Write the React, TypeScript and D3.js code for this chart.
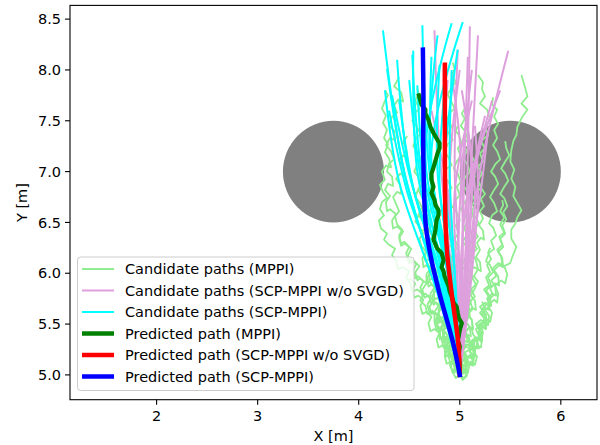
import React from "react";
import * as d3 from "d3";

const W = 600, H = 445;
const X_DOMAIN = [1.143, 6.358];
const Y_DOMAIN = [4.756, 8.635];
const X_TICKS = [2, 3, 4, 5, 6];
const Y_TICKS = [5.0, 5.5, 6.0, 6.5, 7.0, 7.5, 8.0, 8.5];

const obstacleX = [3.75, 5.5];
const obstacleY = [7.0, 7.0];
const obstacleR = [0.5, 0.5];

// Candidate paths (MPPI) — jittery sampled rollouts, "x y" pairs
const mppiCandidates = [
  "5.00 5.00, 4.97 5.05, 5.01 5.09, 4.96 5.14, 4.93 5.12, 4.91 5.19, 4.95 5.24, 4.90 5.29, 4.86 5.27, 4.84 5.34, 4.88 5.39, 4.83 5.45, 4.79 5.43, 4.77 5.50, 4.81 5.56, 4.76 5.61, 4.72 5.60, 4.70 5.67, 4.74 5.73, 4.69 5.78, 4.65 5.76, 4.63 5.84, 4.67 5.90, 4.61 5.95, 4.58 5.93, 4.56 6.01, 4.60 6.07, 4.55 6.12, 4.50 6.10, 4.49 6.18, 4.52 6.24, 4.46 6.29, 4.42 6.27, 4.40 6.35, 4.44 6.41, 4.38 6.46, 4.34 6.44, 4.33 6.52, 4.37 6.58, 4.31 6.63, 4.28 6.61, 4.27 6.70, 4.31 6.76, 4.26 6.82, 4.29 6.88, 4.34 6.86, 4.33 6.95, 4.28 7.00, 4.30 7.08, 4.35 7.12, 4.32 7.20, 4.27 7.26, 4.31 7.33, 4.36 7.31, 4.35 7.40, 4.30 7.46, 4.33 7.54, 4.38 7.58, 4.35 7.65, 4.39 7.71, 4.44 7.69, 4.42 7.78, 4.35 7.84, 4.40 7.93",
  "5.00 5.00, 5.03 5.06, 4.98 5.10, 4.95 5.17, 4.99 5.22, 4.94 5.26, 4.89 5.24, 4.87 5.31, 4.83 5.37, 4.86 5.42, 4.80 5.46, 4.76 5.52, 4.79 5.58, 4.73 5.62, 4.68 5.60, 4.66 5.68, 4.61 5.73, 4.64 5.79, 4.58 5.84, 4.53 5.82, 4.51 5.90, 4.47 5.96, 4.50 6.02, 4.44 6.06, 4.39 6.04, 4.37 6.12, 4.33 6.18, 4.36 6.24, 4.30 6.28, 4.25 6.33, 4.28 6.39, 4.22 6.44, 4.20 6.52, 4.25 6.57, 4.21 6.63, 4.23 6.70, 4.28 6.74, 4.24 6.80, 4.21 6.87, 4.26 6.92, 4.23 7.00, 4.27 7.06, 4.32 7.04, 4.30 7.13, 4.26 7.19, 4.29 7.27, 4.25 7.33, 4.28 7.41, 4.24 7.48, 4.27 7.55, 4.23 7.62, 4.26 7.70, 4.29 7.75, 4.26 7.80",
  "5.00 5.00, 4.97 5.05, 5.02 5.08, 4.99 5.15, 5.04 5.19, 5.00 5.26, 4.95 5.28, 4.98 5.35, 5.03 5.38, 4.99 5.46, 4.94 5.44, 4.96 5.53, 5.01 5.58, 4.96 5.64, 4.92 5.62, 4.94 5.71, 4.99 5.76, 4.95 5.83, 4.90 5.86, 4.93 5.94, 4.97 5.99, 4.92 6.05, 4.95 6.12, 4.90 6.17, 4.86 6.15, 4.88 6.24, 4.93 6.29, 4.89 6.36, 4.92 6.43, 4.87 6.48, 4.84 6.46, 4.86 6.55, 4.91 6.60, 4.88 6.67, 4.84 6.72, 4.87 6.80, 4.92 6.84, 4.88 6.91, 4.84 6.95, 4.87 7.03, 4.92 7.06, 4.89 7.14, 4.85 7.19, 4.88 7.27, 4.93 7.31, 4.89 7.38, 4.92 7.45, 4.87 7.50, 4.90 7.58, 4.95 7.62, 4.91 7.70, 4.88 7.76, 4.92 7.83, 4.96 7.88, 4.92 7.95, 4.95 8.01, 4.93 8.07",
  "5.00 5.00, 5.03 5.04, 4.99 5.09, 5.04 5.14, 5.08 5.12, 5.06 5.20, 5.02 5.25, 5.07 5.30, 5.11 5.28, 5.09 5.37, 5.05 5.42, 5.10 5.47, 5.13 5.45, 5.12 5.54, 5.08 5.60, 5.13 5.65, 5.10 5.72, 5.15 5.77, 5.11 5.84, 5.16 5.89, 5.12 5.96, 5.09 6.01, 5.14 6.06, 5.18 6.04, 5.16 6.13, 5.12 6.19, 5.17 6.24, 5.13 6.31, 5.18 6.36, 5.14 6.43, 5.19 6.49, 5.15 6.56, 5.11 6.60, 5.15 6.67, 5.20 6.71, 5.16 6.79, 5.21 6.84, 5.18 6.92, 5.22 6.98, 5.18 7.05, 5.23 7.10, 5.20 7.18, 5.25 7.23, 5.21 7.30, 5.28 7.36, 5.25 7.44, 5.30 7.51, 5.27 7.61, 5.20 7.67, 5.25 7.74, 5.22 7.81, 5.23 7.88, 5.18 7.95",
  "5.00 5.00, 5.04 5.06, 5.02 5.13, 5.08 5.18, 5.12 5.16, 5.14 5.24, 5.11 5.31, 5.17 5.36, 5.21 5.33, 5.23 5.42, 5.20 5.50, 5.26 5.55, 5.30 5.52, 5.32 5.61, 5.28 5.68, 5.34 5.74, 5.37 5.71, 5.38 5.80, 5.35 5.88, 5.41 5.93, 5.45 5.90, 5.47 5.99, 5.44 6.07, 5.50 6.10, 5.52 6.16, 5.56 6.26, 5.51 6.34, 5.51 6.43, 5.55 6.49, 5.57 6.55, 5.61 6.62, 5.57 6.69, 5.53 6.76, 5.55 6.85, 5.51 6.93, 5.54 7.02, 5.50 7.10, 5.51 7.21, 5.53 7.30, 5.56 7.36, 5.57 7.44, 5.62 7.54, 5.67 7.61, 5.61 7.67, 5.67 7.74, 5.64 7.85, 5.61 7.95",
  "5.00 5.00, 5.04 5.03, 5.07 5.09, 5.04 5.15, 5.10 5.19, 5.14 5.17, 5.15 5.25, 5.12 5.31, 5.18 5.35, 5.22 5.33, 5.21 5.42, 5.17 5.48, 5.23 5.52, 5.27 5.50, 5.26 5.59, 5.22 5.65, 5.27 5.70, 5.31 5.68, 5.30 5.77, 5.26 5.83, 5.31 5.88, 5.28 5.96, 5.33 6.01, 5.30 6.08, 5.26 6.12, 5.29 6.20, 5.34 6.24, 5.31 6.32, 5.36 6.37, 5.33 6.45, 5.29 6.49, 5.32 6.57, 5.37 6.61, 5.34 6.69, 5.30 6.75, 5.34 6.82, 5.38 6.88, 5.35 6.95, 5.31 7.00, 5.35 7.07, 5.40 7.12, 5.37 7.20, 5.33 7.26, 5.37 7.33, 5.34 7.41, 5.38 7.47, 5.34 7.54, 5.37 7.61, 5.32 7.66, 5.33 7.73",
  "5.00 5.00, 4.97 5.06, 5.02 5.10, 5.06 5.08, 5.08 5.16, 5.05 5.22, 5.11 5.26, 5.15 5.24, 5.14 5.33, 5.19 5.38, 5.16 5.45, 5.21 5.49, 5.25 5.47, 5.24 5.56, 5.20 5.61, 5.25 5.66, 5.29 5.64, 5.28 5.73, 5.33 5.78, 5.30 5.85, 5.35 5.90, 5.39 5.88, 5.38 5.97, 5.34 6.03, 5.39 6.08, 5.43 6.06, 5.42 6.15, 5.38 6.21, 5.43 6.26, 5.40 6.34, 5.45 6.39, 5.42 6.47, 5.46 6.53, 5.43 6.60, 5.47 6.66, 5.44 6.74, 5.40 6.78, 5.44 6.85, 5.48 6.91, 5.45 6.98, 5.41 7.03, 5.45 7.10, 5.49 7.16, 5.46 7.23, 5.45 7.30",
  "5.00 5.00, 5.05 5.02, 5.03 5.09, 5.08 5.13, 5.12 5.10, 5.13 5.19, 5.09 5.24, 5.14 5.28, 5.19 5.26, 5.17 5.35, 5.22 5.40, 5.19 5.47, 5.24 5.51, 5.28 5.49, 5.29 5.58, 5.25 5.64, 5.31 5.68, 5.27 5.75, 5.32 5.80, 5.36 5.78, 5.35 5.87, 5.31 5.93, 5.36 5.97, 5.33 6.05, 5.38 6.10, 5.42 6.08, 5.41 6.17, 5.37 6.23, 5.42 6.28, 5.39 6.36, 5.44 6.40, 5.40 6.48, 5.44 6.55, 5.40 6.61, 5.43 6.67, 5.42 6.72",
  "5.00 5.00, 4.96 5.03, 4.94 5.10, 4.98 5.15, 4.93 5.19, 4.89 5.17, 4.88 5.26, 4.92 5.31, 4.87 5.36, 4.84 5.34, 4.83 5.43, 4.87 5.48, 4.82 5.53, 4.79 5.51, 4.78 5.60, 4.82 5.66, 4.77 5.71, 4.74 5.69, 4.73 5.78, 4.77 5.84, 4.72 5.89, 4.69 5.87, 4.68 5.96, 4.72 6.02, 4.67 6.08, 4.64 6.06, 4.63 6.15, 4.67 6.21, 4.62 6.27, 4.60 6.34, 4.64 6.39, 4.60 6.46, 4.56 6.51, 4.60 6.58, 4.64 6.62, 4.60 6.70, 4.56 6.75, 4.59 6.83, 4.63 6.87, 4.59 6.95, 4.55 7.00, 4.58 7.08, 4.62 7.12, 4.58 7.20, 4.54 7.25, 4.57 7.33, 4.61 7.37, 4.57 7.45, 4.53 7.50, 4.56 7.58, 4.60 7.62, 4.56 7.70, 4.59 7.76, 4.58 7.82",
  "5.00 5.00, 5.02 5.05, 4.98 5.11, 5.03 5.16, 5.06 5.14, 5.04 5.23, 5.00 5.28, 5.04 5.34, 5.08 5.32, 5.06 5.41, 5.02 5.46, 5.06 5.52, 5.03 5.59, 5.07 5.64, 5.10 5.62, 5.08 5.71, 5.04 5.76, 5.08 5.83, 5.05 5.90, 5.09 5.95, 5.06 6.02, 5.02 6.07, 5.05 6.14, 5.10 6.18, 5.07 6.26, 5.03 6.31, 5.07 6.38, 5.04 6.45, 5.08 6.50, 5.05 6.58, 5.01 6.63, 5.05 6.70, 5.09 6.75, 5.06 6.83, 5.02 6.88, 5.06 6.95, 5.10 7.00, 5.07 7.08, 5.03 7.13, 5.07 7.20, 5.04 7.27, 5.08 7.32, 5.05 7.40, 5.01 7.45, 5.05 7.52, 5.02 7.57, 5.05 7.62",
  "5.00 5.00, 5.03 5.07, 4.99 5.12, 4.95 5.10, 4.94 5.19, 4.98 5.24, 4.93 5.29, 4.90 5.27, 4.89 5.36, 4.93 5.42, 4.88 5.47, 4.85 5.45, 4.84 5.54, 4.88 5.60, 4.84 5.66, 4.80 5.64, 4.80 5.73, 4.84 5.79, 4.80 5.85, 4.77 5.83, 4.76 5.92, 4.80 5.98, 4.76 6.04, 4.73 6.02, 4.72 6.11, 4.76 6.17, 4.72 6.23, 4.69 6.21, 4.69 6.30, 4.73 6.36, 4.69 6.43, 4.72 6.49, 4.68 6.55, 4.71 6.62, 4.75 6.66, 4.71 6.74, 4.68 6.80, 4.72 6.86, 4.72 6.95",
  "5.00 5.00, 4.98 5.06, 5.03 5.10, 5.07 5.08, 5.06 5.17, 5.02 5.22, 5.06 5.28, 5.10 5.26, 5.09 5.35, 5.05 5.40, 5.09 5.47, 5.13 5.45, 5.12 5.54, 5.08 5.59, 5.12 5.66, 5.16 5.64, 5.15 5.73, 5.11 5.78, 5.15 5.85, 5.18 5.92, 5.14 5.97, 5.18 6.04, 5.21 6.02, 5.20 6.11, 5.16 6.16, 5.20 6.23, 5.17 6.30, 5.21 6.35, 5.24 6.33, 5.23 6.42, 5.19 6.47, 5.23 6.54, 5.20 6.61, 5.24 6.66, 5.21 6.73, 5.25 6.78, 5.21 6.84, 5.22 6.90",
  "5.00 5.00, 4.97 5.04, 4.93 5.02, 4.91 5.10, 4.95 5.15, 4.90 5.20, 4.86 5.18, 4.85 5.27, 4.89 5.32, 4.84 5.37, 4.80 5.35, 4.80 5.44, 4.84 5.49, 4.79 5.55, 4.75 5.53, 4.75 5.62, 4.79 5.68, 4.74 5.73, 4.71 5.71, 4.71 5.80, 4.75 5.86, 4.70 5.92, 4.67 5.90, 4.67 5.99, 4.71 6.05, 4.67 6.11, 4.64 6.17, 4.68 6.22, 4.66 6.30",
  "5.00 5.00, 5.04 5.05, 5.08 5.03, 5.10 5.11, 5.06 5.16, 5.11 5.20, 5.15 5.18, 5.15 5.27, 5.11 5.33, 5.16 5.37, 5.20 5.35, 5.20 5.44, 5.16 5.50, 5.21 5.54, 5.25 5.52, 5.24 5.61, 5.20 5.67, 5.25 5.71, 5.29 5.69, 5.28 5.78, 5.24 5.84, 5.29 5.88, 5.26 5.96, 5.30 6.01, 5.27 6.08, 5.31 6.14, 5.28 6.20, 5.30 6.25",
  "5.00 5.00, 4.96 4.97, 4.93 5.03, 4.96 5.09, 4.91 5.13, 4.87 5.11, 4.85 5.19, 4.88 5.25, 4.83 5.29, 4.79 5.27, 4.77 5.35, 4.80 5.41, 4.75 5.45, 4.71 5.43, 4.69 5.51, 4.72 5.57, 4.67 5.62, 4.63 5.60, 4.61 5.68, 4.64 5.74, 4.59 5.78, 4.55 5.76, 4.53 5.84, 4.56 5.90, 4.50 5.95",
  "5.00 5.00, 5.04 4.97, 5.08 5.02, 5.06 5.09, 5.11 5.13, 5.15 5.10, 5.17 5.18, 5.13 5.24, 5.17 5.29, 5.21 5.27, 5.22 5.36, 5.18 5.42, 5.22 5.47, 5.26 5.45, 5.26 5.54, 5.22 5.60, 5.25 5.66, 5.22 5.72",
  "5.00 5.00, 4.97 5.05, 4.93 5.03, 4.90 5.10, 4.94 5.16, 4.89 5.20, 4.86 5.18, 4.85 5.27, 4.89 5.33, 4.84 5.38, 4.81 5.36, 4.80 5.45, 4.84 5.51, 4.80 5.58",
  "5.00 5.00, 5.03 4.95, 5.07 4.99, 5.05 5.06, 5.09 5.11, 5.13 5.09, 5.14 5.17, 5.10 5.23, 5.14 5.28, 5.17 5.26, 5.17 5.35, 5.13 5.40, 5.12 5.45",
  "5.00 5.00, 4.98 5.07, 5.02 5.12, 4.98 5.19, 4.94 5.17, 4.95 5.26, 5.00 5.31, 4.96 5.38, 4.92 5.36, 4.93 5.45, 4.98 5.50, 4.94 5.57, 4.90 5.55, 4.91 5.64, 4.96 5.69, 4.92 5.76, 4.95 5.83, 4.91 5.89, 4.94 5.96, 4.98 6.01, 4.95 6.09, 4.91 6.14, 4.94 6.21, 4.98 6.26, 4.95 6.34, 4.99 6.40, 4.96 6.47, 5.00 6.52, 4.97 6.60, 4.93 6.65, 4.96 6.72, 5.00 6.77, 4.97 6.85, 5.01 6.90, 4.98 6.98, 4.94 7.03, 4.97 7.10, 5.01 7.15, 4.98 7.23, 5.02 7.28, 4.99 7.36, 4.96 7.40, 4.98 7.45",
  "5.00 5.00, 4.97 5.05, 4.95 5.12, 4.91 5.10, 4.89 5.18, 4.92 5.24, 4.87 5.29, 4.84 5.27, 4.82 5.35, 4.85 5.41, 4.80 5.46, 4.77 5.44, 4.75 5.52, 4.78 5.58, 4.73 5.63, 4.70 5.61, 4.68 5.69, 4.71 5.75, 4.66 5.80, 4.63 5.78, 4.61 5.86, 4.64 5.92, 4.59 5.97, 4.56 5.95, 4.54 6.03, 4.57 6.09, 4.52 6.14, 4.49 6.12, 4.47 6.20, 4.50 6.26, 4.45 6.31, 4.42 6.29, 4.40 6.37, 4.43 6.43, 4.38 6.48, 4.36 6.56, 4.40 6.61, 4.37 6.68, 4.34 6.75, 4.38 6.80, 4.42 6.78, 4.41 6.87, 4.37 6.93, 4.41 6.98, 4.45 6.96, 4.44 7.05, 4.40 7.11, 4.44 7.16, 4.48 7.14, 4.47 7.23, 4.44 7.29, 4.48 7.35",
  "5.00 5.00, 5.03 5.06, 5.00 5.12, 5.05 5.16, 5.02 5.23, 5.06 5.28, 5.03 5.35, 5.07 5.40, 5.11 5.38, 5.10 5.47, 5.06 5.52, 5.10 5.59, 5.07 5.66, 5.11 5.71, 5.08 5.78, 5.12 5.83, 5.09 5.90, 5.13 5.96, 5.10 6.03, 5.06 6.08, 5.09 6.15, 5.13 6.20, 5.10 6.28, 5.14 6.33, 5.11 6.40, 5.07 6.45, 5.10 6.53, 5.14 6.58, 5.11 6.65, 5.15 6.71, 5.12 6.78, 5.08 6.83, 5.11 6.90, 5.15 6.95, 5.12 7.03, 5.16 7.08, 5.12 7.15",
  "5.00 5.00, 4.98 5.05, 4.94 5.09, 4.97 5.15, 4.93 5.20, 4.90 5.18, 4.89 5.27, 4.92 5.32, 4.88 5.38, 4.85 5.36, 4.84 5.45, 4.87 5.51, 4.83 5.57, 4.80 5.55, 4.79 5.64, 4.82 5.70, 4.78 5.76, 4.75 5.74, 4.74 5.83, 4.77 5.89, 4.73 5.95, 4.70 5.93, 4.70 6.02, 4.73 6.08, 4.69 6.14, 4.66 6.12, 4.66 6.21, 4.69 6.27, 4.65 6.33, 4.62 6.40, 4.66 6.45, 4.63 6.52, 4.59 6.57, 4.62 6.64, 4.66 6.68, 4.62 6.76, 4.59 6.82, 4.62 6.89, 4.66 6.93, 4.63 7.01, 4.62 7.10",
];

// Candidate paths (SCP-MPPI w/o SVGD) — smooth, control points
const noSvgdCandidates = [
  "5.00 5.00, 4.92 6.00, 4.80 7.20, 4.75 8.39",
  "5.00 5.00, 5.05 6.00, 5.08 7.20, 5.10 8.43",
  "5.00 5.00, 5.05 6.00, 5.12 7.20, 5.18 8.34",
  "5.00 5.00, 5.08 6.00, 5.20 7.00, 5.48 8.19",
  "5.00 5.00, 4.95 6.00, 4.86 7.00, 4.84 8.06",
  "5.00 5.00, 5.02 6.00, 5.05 7.20, 5.08 8.13",
  "5.00 5.00, 5.00 6.00, 4.95 7.00, 4.98 8.20",
  "5.00 5.00, 5.06 6.00, 5.15 7.00, 5.32 7.70",
  "5.00 5.00, 5.10 6.00, 5.15 6.80, 5.05 7.60",
  "5.00 5.00, 4.95 6.00, 4.90 7.00, 5.00 8.00",
  "5.00 5.00, 5.05 6.00, 5.10 6.80, 5.25 7.55",
  "5.00 5.00, 4.97 6.00, 4.95 6.80, 5.12 7.70",
  "5.00 5.00, 5.12 6.00, 5.18 6.80, 5.15 7.45",
  "5.00 5.00, 4.93 6.20, 4.85 7.20, 4.88 7.90",
  "5.00 5.00, 5.03 6.20, 5.00 7.30, 4.92 7.95",
  "5.00 5.00, 5.08 6.10, 5.12 7.00, 5.02 7.80",
  "5.00 5.00, 4.95 6.00, 4.88 6.80, 4.72 7.60",
  "5.00 5.00, 5.00 5.90, 5.10 6.90, 5.40 7.80",
  "5.00 5.00, 5.10 6.00, 5.22 6.90, 5.28 7.40",
  "5.00 5.00, 4.98 6.00, 5.02 7.00, 5.12 8.00",
];

// Candidate paths (SCP-MPPI)
const scpCandidates = [
  "5.00 5.00, 4.80 5.80, 4.45 7.00, 4.24 8.39",
  "5.00 5.00, 4.78 5.80, 4.40 6.90, 4.26 7.80",
  "5.00 5.00, 4.80 5.80, 4.45 7.00, 4.28 8.01",
  "5.00 5.00, 4.85 5.90, 4.58 7.00, 4.54 8.19",
  "5.00 5.00, 4.86 5.90, 4.62 7.00, 4.53 8.15",
  "5.00 5.00, 4.90 5.90, 4.70 7.00, 4.63 8.44",
  "5.00 5.00, 4.88 6.00, 4.66 7.20, 4.92 8.46",
  "5.00 5.00, 4.90 6.00, 4.72 7.20, 5.03 8.47",
  "5.00 5.00, 4.88 6.00, 4.70 7.20, 4.78 8.34",
  "5.00 5.00, 4.90 6.00, 4.72 7.00, 4.72 8.13",
  "5.00 5.00, 4.82 5.90, 4.50 7.00, 4.38 8.10",
  "5.00 5.00, 4.84 5.90, 4.52 6.90, 4.33 7.75",
  "5.00 5.00, 4.92 6.00, 4.78 7.00, 4.80 8.05",
  "5.00 5.00, 4.95 6.00, 4.85 7.00, 4.98 8.20",
  "5.00 5.00, 4.87 5.90, 4.62 6.90, 4.50 7.90",
  "5.00 5.00, 4.83 5.80, 4.48 6.80, 4.30 7.60",
  "5.00 5.00, 4.90 5.90, 4.66 6.90, 4.58 7.85",
  "5.00 5.00, 4.93 5.90, 4.80 6.90, 4.86 7.90",
  "5.00 5.00, 4.95 6.00, 4.90 7.00, 4.92 8.00",
  "5.00 5.00, 4.86 5.80, 4.55 6.80, 4.40 7.70",
];

// Predicted paths
const predMppi = "5.00 5.00, 5.00 5.10, 4.99 5.20, 5.00 5.28, 4.98 5.34, 4.99 5.38, 5.00 5.44, 5.02 5.51, 4.99 5.56, 4.98 5.61, 4.97 5.67, 4.94 5.71, 4.92 5.77, 4.90 5.82, 4.89 5.87, 4.87 5.92, 4.85 5.97, 4.84 6.02, 4.82 6.06, 4.84 6.13, 4.82 6.20, 4.78 6.24, 4.77 6.26, 4.74 6.33, 4.75 6.38, 4.76 6.43, 4.77 6.52, 4.79 6.57, 4.79 6.62, 4.76 6.67, 4.75 6.72, 4.72 6.79, 4.74 6.85, 4.72 6.92, 4.72 6.98, 4.74 7.04, 4.76 7.11, 4.78 7.18, 4.80 7.23, 4.80 7.28, 4.78 7.31, 4.74 7.38, 4.71 7.44, 4.69 7.51, 4.66 7.57, 4.66 7.61, 4.62 7.66, 4.61 7.70, 4.59 7.77";
const predNoSvgd = "5.00 5.00, 4.985 5.31, 4.92 5.80, 4.875 6.20, 4.86 6.46, 4.853 7.11, 4.853 8.05";
const predScp = "5.00 5.00, 4.935 5.31, 4.80 5.80, 4.72 6.13, 4.665 6.46, 4.64 7.11, 4.64 7.77, 4.635 8.20";

const legendLabels = [
  "Candidate paths (MPPI)",
  "Candidate paths (SCP-MPPI w/o SVGD)",
  "Candidate paths (SCP-MPPI)",
  "Predicted path (MPPI)",
  "Predicted path (SCP-MPPI w/o SVGD)",
  "Predicted path (SCP-MPPI)",
];
const legendColors = ["#90ee90", "#dda0dd", "#00ffff", "#008000", "#ff0000", "#0000ff"];
const legendWidths = [2, 2, 2, 4.5, 4.5, 4.5];

function parse(s: string): [number, number][] {
  return s.split(",").map((p) => {
    const [a, b] = p.trim().split(/\s+/).map(Number);
    return [a, b] as [number, number];
  });
}

export default function App() {
  const left = 70, right = 597, top = 5.4, bottom = 399.7;
  const x = d3.scaleLinear().domain(X_DOMAIN).range([left, right]);
  const y = d3.scaleLinear().domain(Y_DOMAIN).range([bottom, top]);
  const jag = d3.line<[number, number]>().x((d) => x(d[0])).y((d) => y(d[1]));
  const smooth = d3
    .line<[number, number]>()
    .x((d) => x(d[0]))
    .y((d) => y(d[1]))
    .curve(d3.curveCatmullRom.alpha(0.5));
  const font = "DejaVu Sans, sans-serif";
  const fs = 14.5;

  const lgX = 77.5, lgY = 257, lgW = 336.5, lgH = 133.5;
  const rowY0 = 269, rowStep = 21.5;

  return (
    <svg width={W} height={H} style={{ position: "absolute", left: 0, top: 0, background: "#fff" }}>
      <defs>
        <clipPath id="plotclip">
          <rect x={left} y={top} width={right - left} height={bottom - top} />
        </clipPath>
      </defs>
      <rect x={0} y={0} width={W} height={H} fill="#fff" />
      <g clipPath="url(#plotclip)">
        {obstacleX.map((cx, i) => (
          <ellipse
            key={"o" + i}
            cx={x(cx)}
            cy={y(obstacleY[i])}
            rx={x(cx + obstacleR[i]) - x(cx)}
            ry={y(obstacleY[i] - obstacleR[i]) - y(obstacleY[i])}
            fill="#808080"
          />
        ))}
        {mppiCandidates.map((s, i) => (
          <path key={"g" + i} d={jag(parse(s)) || ""} fill="none" stroke="#90ee90" strokeWidth={1.8} strokeLinejoin="round" />
        ))}
        {noSvgdCandidates.map((s, i) => (
          <path key={"p" + i} d={smooth(parse(s)) || ""} fill="none" stroke="#dda0dd" strokeWidth={2} />
        ))}
        {scpCandidates.map((s, i) => (
          <path key={"c" + i} d={smooth(parse(s)) || ""} fill="none" stroke="#00ffff" strokeWidth={2} />
        ))}
        <path d={jag(parse(predMppi)) || ""} fill="none" stroke="#008000" strokeWidth={4.2} strokeLinejoin="round" />
        <path d={smooth(parse(predNoSvgd)) || ""} fill="none" stroke="#ff0000" strokeWidth={4.5} strokeLinecap="square" />
        <path d={smooth(parse(predScp)) || ""} fill="none" stroke="#0000ff" strokeWidth={4.5} strokeLinecap="square" />
      </g>

      {/* axes frame */}
      <rect x={left} y={top} width={right - left} height={bottom - top} fill="none" stroke="#000" strokeWidth={1.1} />

      {/* x ticks */}
      {X_TICKS.map((t) => (
        <g key={"xt" + t}>
          <line x1={x(t)} x2={x(t)} y1={bottom} y2={bottom + 5} stroke="#000" strokeWidth={1.1} />
          <text x={x(t)} y={421} textAnchor="middle" fontFamily={font} fontSize={fs} fill="#000">
            {t}
          </text>
        </g>
      ))}
      {/* y ticks */}
      {Y_TICKS.map((t) => (
        <g key={"yt" + t}>
          <line x1={left - 5} x2={left} y1={y(t)} y2={y(t)} stroke="#000" strokeWidth={1.1} />
          <text x={left - 9} y={y(t)} dy="0.36em" textAnchor="end" fontFamily={font} fontSize={fs} fill="#000">
            {t.toFixed(1)}
          </text>
        </g>
      ))}
      <text x={(left + right) / 2} y={441} textAnchor="middle" fontFamily={font} fontSize={fs} fill="#000">
        X [m]
      </text>
      <text
        transform={`translate(27,${(top + bottom) / 2}) rotate(-90)`}
        textAnchor="middle"
        fontFamily={font}
        fontSize={fs}
        fill="#000"
      >
        Y [m]
      </text>

      {/* legend */}
      <rect x={lgX} y={lgY} width={lgW} height={lgH} rx={3} ry={3} fill="#fff" fillOpacity={0.8} stroke="#cccccc" strokeWidth={1} />
      {legendLabels.map((lab, i) => {
        const ry = rowY0 + i * rowStep;
        return (
          <g key={"lg" + i}>
            <line x1={82} x2={114} y1={ry} y2={ry} stroke={legendColors[i]} strokeWidth={legendWidths[i]} />
            <text x={125} y={ry} dy="0.36em" fontFamily={font} fontSize={fs} fill="#000">
              {lab}
            </text>
          </g>
        );
      })}
    </svg>
  );
}
